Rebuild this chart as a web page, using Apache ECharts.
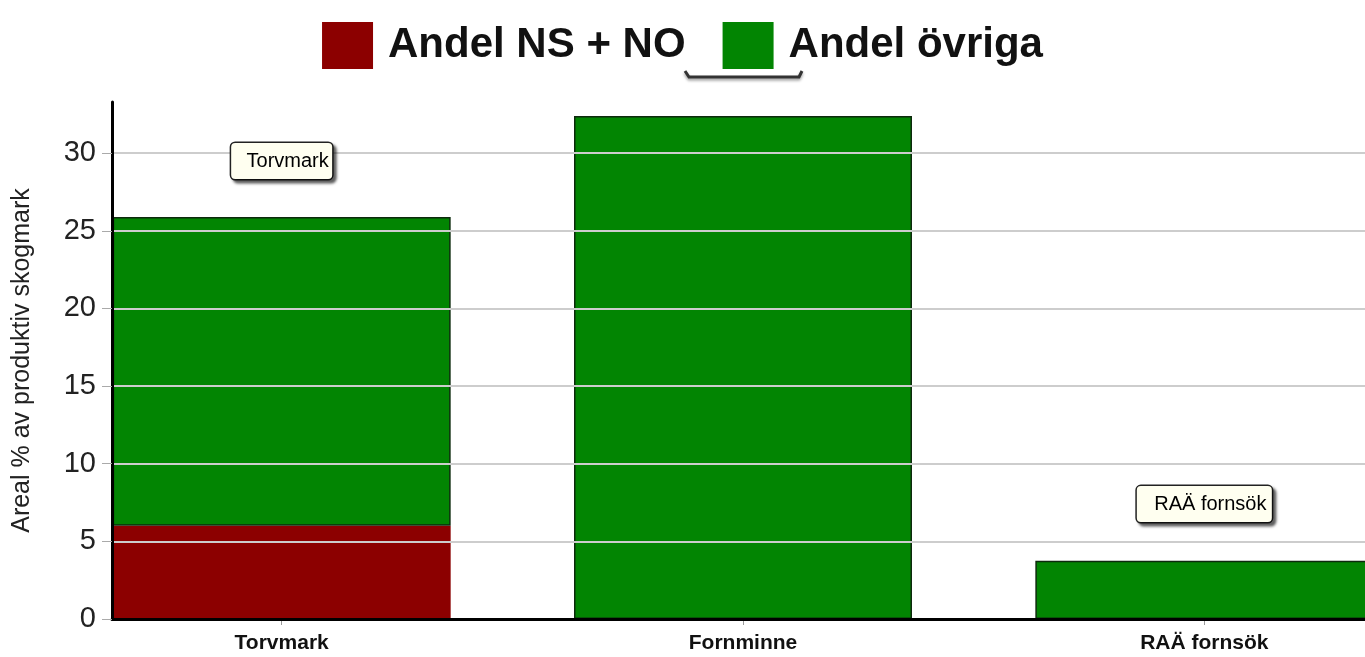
<!DOCTYPE html>
<html>
<head>
<meta charset="utf-8">
<script src="https://cdn.jsdelivr.net/npm/echarts@6/dist/echarts.min.js"></script>
<style>
html,body{margin:0;padding:0;background:#fff;}
#chart{width:1365px;height:657px;}
</style>
</head>
<body>
<div id="chart"></div>
<script>
var categories = ['Torvmark', 'Fornminne', 'RAÄ fornsök'];
var seriesNames = ['Andel NS + NO', 'Andel övriga'];
var andelNSNO = [6.0, 0, 0];
var andelOvriga = [19.9, 32.4, 3.75];
var yTicks = [0, 5, 10, 15, 20, 25, 30];
var annotationText = ['Torvmark', 'RAÄ fornsök'];
var annotationCategory = ['Torvmark', 'RAÄ fornsök'];
var annotationValue = [29.5, 7.4];
var annotationWidth = [89, 123];
var yMax = 33.3;
var yInterval = 5;

var chart = echarts.init(document.getElementById('chart'));

var annData = annotationText.map(function (t, i) {
  return {
    value: [annotationCategory[i], annotationValue[i]],
    label: { formatter: t, width: annotationWidth[i] }
  };
});

var option = {
  animation: false,
  backgroundColor: '#ffffff',
  legend: {
    data: seriesNames,
    left: 'center',
    top: 17,
    icon: 'rect',
    itemWidth: 51,
    itemHeight: 47,
    itemGap: 37,
    selectedMode: false,
    itemStyle: { borderWidth: 0 },
    textStyle: {
      fontFamily: 'Liberation Sans, Arial, sans-serif',
      fontSize: 42,
      fontWeight: 'bold',
      color: '#111',
      padding: [0, 0, 0, 10]
    }
  },
  graphic: [{
    type: 'polyline',
    shape: { points: [[685, 71], [689, 77], [799, 77], [802, 71]] },
    style: { stroke: '#333', lineWidth: 3, fill: null, shadowColor: 'rgba(0,0,0,0.4)', shadowBlur: 3, shadowOffsetY: 2 },
    z: 10
  }],
  grid: [
    { left: 51, width: 1384, top: 102, bottom: 38, outerBoundsMode: 'none', containLabel: false },
    { left: 112, right: 0, top: 102, bottom: 38, outerBoundsMode: 'none', containLabel: false }
  ],
  xAxis: [
    {
      type: 'category',
      gridIndex: 0,
      data: categories,
      axisLine: { show: false },
      axisTick: { show: true, alignWithLabel: true, length: 6, lineStyle: { color: '#999', width: 1 } },
      axisLabel: {
        margin: 14,
        fontFamily: 'Liberation Sans Narrow, Arial Narrow, Liberation Sans, Arial, sans-serif',
        fontWeight: 'bold',
        fontSize: 21,
        color: '#111'
      },
      splitLine: { show: false }
    },
    {
      type: 'value',
      gridIndex: 1,
      min: 0,
      max: 1,
      z: 5,
      axisLine: { show: true, onZero: false, lineStyle: { color: '#000', width: 3 } },
      axisTick: { show: false },
      axisLabel: { show: false },
      splitLine: { show: false }
    }
  ],
  yAxis: [
    {
      type: 'value',
      gridIndex: 0,
      min: 0,
      max: yMax,
      show: false
    },
    {
      type: 'value',
      gridIndex: 1,
      min: 0,
      max: yMax,
      interval: yInterval,
      name: 'Areal % av produktiv skogmark',
      nameLocation: 'middle',
      nameGap: 77,
      nameTextStyle: { fontFamily: 'Liberation Sans, Arial, sans-serif', fontSize: 25, color: '#222' },
      z: 5,
      axisLine: { show: true, lineStyle: { color: '#000', width: 3 } },
      axisTick: { show: true, length: 10, customValues: yTicks, lineStyle: { color: '#aaa', width: 1 } },
      axisLabel: {
        margin: 16,
        customValues: yTicks,
        fontFamily: 'Liberation Sans, Arial, sans-serif',
        fontSize: 29,
        color: '#222'
      },
      splitLine: { show: true, lineStyle: { color: '#cdcdcd', width: 2 } }
    }
  ],
  series: [
    {
      name: seriesNames[0],
      type: 'bar',
      xAxisIndex: 0,
      yAxisIndex: 0,
      stack: 'total',
      barWidth: 338,
      itemStyle: { color: '#8c0000' },
      data: andelNSNO
    },
    {
      name: seriesNames[1],
      type: 'bar',
      xAxisIndex: 0,
      yAxisIndex: 0,
      stack: 'total',
      barWidth: 338,
      itemStyle: { color: '#028502', borderColor: '#0d2a0d', borderWidth: 1.5 },
      data: andelOvriga
    },
    {
      name: 'annotations',
      type: 'scatter',
      xAxisIndex: 0,
      yAxisIndex: 0,
      symbolSize: 0,
      silent: true,
      z: 10,
      itemStyle: { opacity: 1 },
      label: {
        show: true,
        position: 'inside',
        align: 'center',
        verticalAlign: 'middle',
        fontFamily: 'Liberation Sans, Arial, sans-serif',
        fontSize: 20,
        color: '#000',
        overflow: 'truncate',
        ellipsis: '',
        height: 36,
        lineHeight: 36,
        padding: [0, 0, 0, 12],
        backgroundColor: '#fffff0',
        borderColor: '#222',
        borderWidth: 1.5,
        borderRadius: 4,
        shadowColor: 'rgba(0,0,0,0.55)',
        shadowBlur: 3,
        shadowOffsetX: 3,
        shadowOffsetY: 3
      },
      data: annData
    }
  ]
};

chart.setOption(option);
</script>
</body>
</html>
